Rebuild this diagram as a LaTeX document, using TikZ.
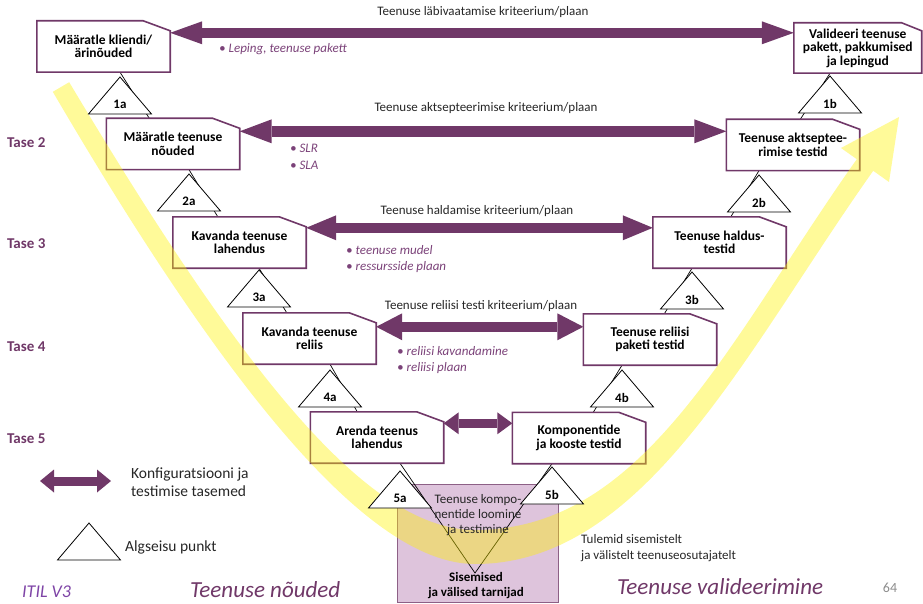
\documentclass[tikz,border=0pt]{standalone}
\usepackage{fontspec}
\setmainfont{Carlito}
\usetikzlibrary{arrows.meta,calc}

\definecolor{plum}{HTML}{703868}
\definecolor{plumsoft}{HTML}{7B4279}
\definecolor{itil}{HTML}{7E44A6}
\definecolor{lilac}{HTML}{DEC4DC}
\definecolor{slidegray}{HTML}{8C8C8C}

\pgfdeclarelayer{plate}
\pgfdeclarelayer{wires}
\pgfdeclarelayer{frames}
\pgfdeclarelayer{glow}
\pgfsetlayers{plate,wires,frames,glow,main}

\tikzset{
  stepbox/.style={minimum width=133pt,minimum height=51pt,inner sep=0pt,align=center,
    font=\bfseries\fontsize{13.5}{13.5}\selectfont},
  frame/.style={draw=plum,line width=1.6pt,fill=white,line join=miter},
  link/.style={black,line width=0.7pt},
  starttri/.style={draw=black,line width=0.8pt,fill=white,line join=miter},
  trilabel/.style={font=\bfseries\fontsize{13}{13}\selectfont,inner sep=0pt},
  crit/.style={font=\fontsize{13}{13}\selectfont,text=black!85,inner sep=0pt},
  notes/.style={font=\itshape\fontsize{13}{16.5}\selectfont,text=plumsoft,align=left,anchor=west,inner sep=0pt},
  level/.style={font=\bfseries\fontsize{15}{15}\selectfont,text=plum,anchor=west,inner sep=0pt},
  dbl/.style n args={3}{draw=plum,line width=#1,
    {Triangle[length=#2,width=#3,line width=0pt]}-{Triangle[length=#2,width=#3,line width=0pt]}},
  glowband/.style={fill=yellow,fill opacity=0.4},
}

% frame with a clipped upper right corner around a step box
\newcommand\cutframe[3]{%
  \begin{pgfonlayer}{frames}
    \draw[frame] (#1.south west) -- (#1.north west) -- ($(#1.north east)+(-#2,0)$)
      -- ($(#1.north east)+(0,#3)$) -- (#1.south east) -- cycle;
  \end{pgfonlayer}}

% start point triangle: name, apex x, apex y, label
\newcommand\starttri[4]{%
  \coordinate (#1) at (#2,#3);
  \draw[starttri] (#1) -- ++(31.5,37) -- ++(-63,0) -- cycle;
  \node[trilabel] (#1-l) at ($(#1)+(0,27.5)$) {#4};}

\begin{document}
\begin{tikzpicture}[x=1pt,y=-1pt]
\useasboundingbox (0,0) rectangle (923,604);

% ---- step boxes
\node[stepbox] (b1) at (103.5,46.5) {Määratle kliendi/\\ärinõuded};
\node[stepbox] (b2) at (173,144) {Määratle teenuse\\nõuded};
\node[stepbox] (b3) at (239.5,242.5) {Kavanda teenuse\\lahendus};
\node[stepbox] (b4) at (309.5,338.5) {Kavanda teenuse\\reliis};
\node[stepbox] (b5) at (377,437.5) {Arenda teenus\\lahendus};
\node[stepbox,minimum width=127.5pt,minimum height=50pt] (b1b) at (857.75,48) {Valideeri teenuse\\pakett, pakkumised\\ja lepingud};
\node[stepbox] (b2b) at (793,145) {Teenuse aktseptee-\\rimise testid};
\node[stepbox] (b3b) at (719.5,242.5) {Teenuse haldus-\\testid};
\node[stepbox] (b4b) at (650,339.5) {Teenuse reliisi\\paketi testid};
\node[stepbox] (b5b) at (579,438) {Komponentide\\ja kooste testid};
\foreach \b in {b1,b2,b3,b4,b5,b2b,b3b,b4b,b5b}{\cutframe{\b}{27}{10}}
\cutframe{b1b}{20}{8}

% ---- suppliers block
\begin{pgfonlayer}{plate}
  \node[draw=plum!80,line width=0.8pt,fill=lilac,minimum width=161pt,minimum height=118pt,inner sep=0pt] (src) at (477.5,543) {};
\end{pgfonlayer}
\node[font=\fontsize{13}{15}\selectfont,align=center,text=black!85] (srctop) at (478,515) {Teenuse kompo-\\nentide loomine\\ja testimine};
\node[font=\bfseries\fontsize{13}{15}\selectfont,align=center] (srcbot) at (476,586) {Sisemised\\ja välised tarnijad};

% ---- start point triangles
\starttri{t1a}{120}{77}{1a}
\starttri{t2a}{189}{174}{2a}
\starttri{t3a}{259}{270}{3a}
\starttri{t4a}{330}{370}{4a}
\starttri{t5a}{400}{471}{5a}
\starttri{t1b}{830}{76}{1b}
\starttri{t2b}{759}{175}{2b}
\starttri{t3b}{692}{272}{3b}
\starttri{t4b}{622}{370}{4b}
\starttri{t5b}{552}{467}{5b}

% ---- links between levels
\coordinate (vtx) at (475,573);
\begin{pgfonlayer}{wires}
  \draw[link] (b1.south -| t1a) -- ($(b2.north west)+(43,0)$);
  \draw[link] (b2.south -| t2a) -- ($(b3.north west)+(45,0)$);
  \draw[link] (b3.south -| t3a) -- ($(b4.north west)+(44,0)$);
  \draw[link] (b4.south -| t4a) -- ($(b5.north west)+(47,0)$);
  \draw[link] (b1b.south -| t1b) -- ($(b2b.north west)+(74,0)$);
  \draw[link] (b2b.south -| t2b) -- ($(b3b.north west)+(78,0)$);
  \draw[link] (b3b.south -| t3b) -- ($(b4b.north west)+(81,0)$);
  \draw[link] (b4b.south -| t4b) -- ($(b5b.north west)+(81,0)$);
  \draw[link] (b5.south -| t5a) -- (vtx) -- (b5b.south -| t5b);
\end{pgfonlayer}

% ---- configuration and testing levels
\coordinate (a1) at ($(b1.north east)+(0,12)$);
\coordinate (a2) at ($(b2.north east)+(0,13)$);
\coordinate (a3) at ($(b3.north east)+(0,11)$);
\coordinate (a4) at ($(b4.north east)+(0,14)$);
\coordinate (a5) at ($(b5.north east)+(0,11.5)$);
\draw[dbl={10pt}{32pt}{23pt}] (a1) -- (a1 -| b1b.west);
\draw[dbl={11pt}{32pt}{24pt}] (a2) -- (a2 -| b2b.west);
\draw[dbl={10pt}{30pt}{25pt}] (a3) -- (a3 -| b3b.west);
\draw[dbl={10pt}{26pt}{27pt}] (a4) -- (a4 -| b4b.west);
\draw[dbl={9pt}{15pt}{22pt}] (a5) -- (a5 -| b5b.west);

\node[crit] (k1) at (483,12) {Teenuse läbivaatamise kriteerium/plaan};
\node[crit] (k2) at (486,108) {Teenuse aktsepteerimise kriteerium/plaan};
\node[crit] (k3) at (477,211) {Teenuse haldamise kriteerium/plaan};
\node[crit] (k4) at (481,306) {Teenuse reliisi testi kriteerium/plaan};

\node[notes] (n1) at (219,49) {\textbullet\ Leping, teenuse pakett};
\node[notes] (n2) at (290,157) {\textbullet\ SLR\\\textbullet\ SLA};
\node[notes] (n3) at (346,259) {\textbullet\ teenuse mudel\\\textbullet\ ressursside plaan};
\node[notes] (n4) at (397,360) {\textbullet\ reliisi kavandamine\\\textbullet\ reliisi plaan};

% ---- levels
\node[level] (tase2) at (7,143) {Tase 2};
\node[level] (tase3) at (7,244) {Tase 3};
\node[level] (tase4) at (7,347) {Tase 4};
\node[level] (tase5) at (7,439) {Tase 5};

% ---- legend
\coordinate (lg1) at (40,481);
\coordinate (lg2) at (111,481);
\draw[dbl={9pt}{14pt}{23pt}] (lg1) -- (lg2);
\node[font=\fontsize{15.5}{18}\selectfont,align=left,anchor=west,inner sep=0pt,text=black!85] (lgtext) at (131,482) {Konfiguratsiooni ja\\testimise tasemed};
\coordinate (lgt) at (89,523);
\draw[starttri] (lgt) -- ++(31.5,37) -- ++(-63,0) -- cycle;
\node[font=\fontsize{15.5}{18}\selectfont,anchor=west,inner sep=0pt,text=black!85] (lgtri) at (125,547) {Algseisu punkt};

% ---- output note
\node[font=\fontsize{13}{16}\selectfont,align=left,anchor=west,inner sep=0pt,text=black!85] (out) at (581,548) {Tulemid sisemistelt\\ja välistelt teenuseosutajatelt};

% ---- footer
\node[font=\itshape\fontsize{18}{18}\selectfont,text=itil,anchor=west,inner sep=0pt] (itil) at (22,592) {ITIL V3};
\node[font=\itshape\fontsize{23}{23}\selectfont,text=plum,anchor=west,inner sep=0pt] (req) at (190,590) {Teenuse nõuded};
\node[font=\itshape\fontsize{23}{23}\selectfont,text=plum,anchor=west,inner sep=0pt] (val) at (617,587) {Teenuse valideerimine};
\node[font=\fontsize{14}{14}\selectfont,text=slidegray,inner sep=0pt] (pg) at (890,588) {64};

% ---- yellow flow band with its arrow head
\begin{pgfonlayer}{glow}
  \fill[glowband] (52.8,91.8) .. controls (219.5,376.6) and (365,564) .. (475,564)
    .. controls (645,564) and (746,350.3) .. (873.2,170.8)
    -- (889,182) -- (899,117) -- (841,148) -- (856.8,159.2)
    .. controls (729.6,338.7) and (645,530) .. (475,530)
    .. controls (365,530) and (238.5,365.4) .. (69.2,82.2) -- cycle;
\end{pgfonlayer}
\end{tikzpicture}
\end{document}
